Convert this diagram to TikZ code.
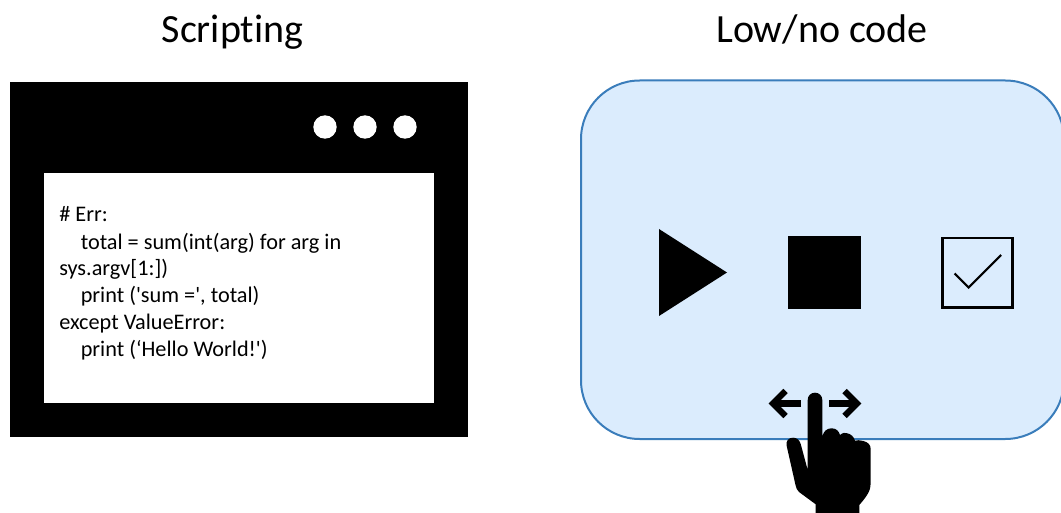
\documentclass[tikz,border=0pt]{standalone}
\usepackage{fontspec}
\setmainfont{Carlito}[Ligatures={NoCommon,NoRequired,NoContextual},RawFeature={-liga;-clig;-calt},Mapping=]
\definecolor{panelfill}{HTML}{DBECFD}
\definecolor{paneledge}{HTML}{3A7DBB}
\tikzset{
  title/.style={font=\fontsize{30}{36}\selectfont, text=black, inner sep=0pt, anchor=base},
  codeline/.style={font=\fontsize{16.7}{20}\selectfont, text=black, inner sep=0pt, anchor=base west},
  dot/.style={circle, fill=white, draw=none, minimum size=17.5pt, inner sep=0pt},
  swipe/.style={black, line width=4.7pt, line join=miter},
}
\begin{document}
\begin{tikzpicture}[x=0.75pt, y=-0.75pt]
  \useasboundingbox (0,0) rectangle (1061,513);
  \clip (0,0) rectangle (1061,513);

  \node[title] (scriptingtitle) at (232.5,42.5) {Scripting};
  \node[title] (lowcodetitle) at (822,42.5) {Low/no code};

  \fill[black] (10,82) rectangle (468,437);
  \fill[white] (44,173) rectangle (434,403);
  \node[dot] (dota) at (325,127) {};
  \node[dot] (dotb) at (365,127) {};
  \node[dot] (dotc) at (405,127) {};

  \node[codeline] (codea) at (59,222) {\# Err:};
  \node[codeline] (codeb) at (80.5,249.5) {total = sum(int(arg) for arg in};
  \node[codeline] (codec) at (59,276) {sys.argv[1:])};
  \node[codeline] (coded) at (80.5,303) {print ('sum =', total)};
  \node[codeline] (codee) at (59,330) {except ValueError:};
  \node[codeline] (codef) at (80.5,356.5) {print (‘Hello World!')};

  \draw[paneledge, fill=panelfill, line width=1.5pt, rounded corners=44pt] (581,80.5) rectangle (1064,439);

  \fill[black] (659,229) -- (727,272.5) -- (659,316) -- cycle;
  \fill[black] (788,236) rectangle (861,309);
  \draw[black, line width=1.8pt] (942.5,238) rectangle (1012.5,307.5);
  \draw[black, line width=1.6pt] (954.5,273.5) -- (968.7,287.5) -- (1001,255);

  \draw[swipe] (801,403.5) -- (773,403.5);
  \draw[swipe] (785.5,391) -- (773,403.5) -- (785.5,416);
  \draw[swipe] (829,403.5) -- (857,403.5);
  \draw[swipe] (844.5,391) -- (857,403.5) -- (844.5,416);

  \fill[black] (807.7,400) .. controls (807.7,395.5) and (811,392.7) .. (815,392.7)
    .. controls (819,392.7) and (822.3,395.5) .. (822.3,400)
    -- (822.3,436.7)
    .. controls (823.5,431) and (827,428.3) .. (831.7,428.3)
    .. controls (836,428.3) and (839,431) .. (840,435)
    .. controls (843,432.5) and (845,432.5) .. (847.3,433.3)
    .. controls (851,434) and (854,437) .. (855,440.7)
    .. controls (857,440) and (860,440) .. (863.3,441)
    .. controls (868,442) and (870.7,445) .. (870.7,449)
    -- (870.7,483)
    .. controls (870.7,490) and (868,495) .. (859.3,505)
    -- (859.3,513) -- (815.7,513) -- (815.7,504.3)
    -- (799,492)
    .. controls (797,490) and (796,488) .. (795.5,485)
    -- (786.7,446)
    .. controls (785.5,441) and (788.5,437.7) .. (793,437.7)
    .. controls (797,437.7) and (799.5,440) .. (800.7,444)
    -- (807.7,470) -- cycle;
\end{tikzpicture}
\end{document}
